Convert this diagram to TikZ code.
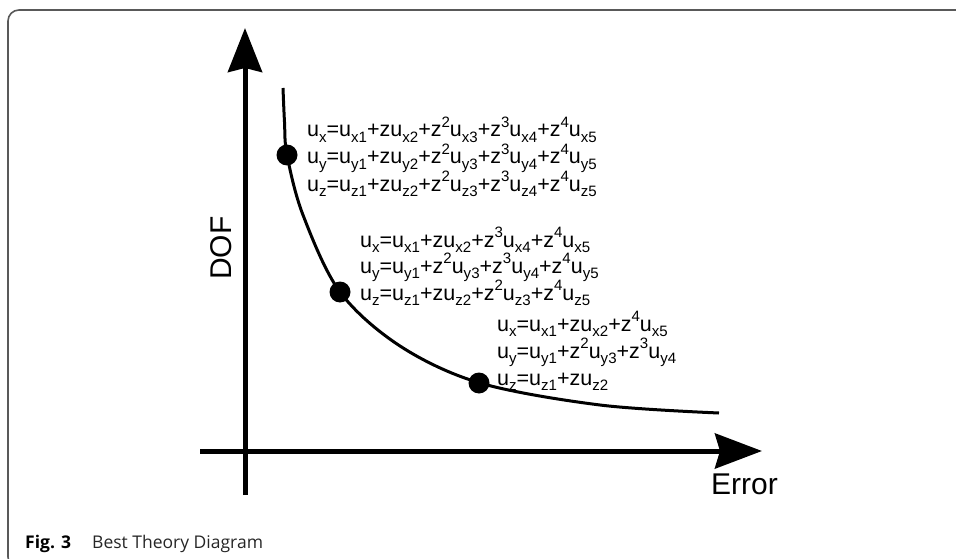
\documentclass[tikz,border=0pt]{standalone}
\usepackage{fontspec}
\usepackage{graphicx}
\setmainfont{Liberation Sans}
\newfontfamily\capfont{Open Sans}
\usetikzlibrary{arrows.meta}
\newcommand\Sb[1]{\raisebox{-0.24em}{\scalebox{0.7}{#1}}}
\newcommand\Sp[1]{\raisebox{0.46em}{\scalebox{0.7}{#1}}}
\tikzset{
  axis/.style={line width=5pt},
  curveline/.style={line width=3pt},
  dot/.style={circle,fill=black,inner sep=0pt,minimum size=21pt},
  eq/.style={anchor=base west,inner sep=0pt,font=\fontsize{21.5}{21}\selectfont},
  lab/.style={inner sep=0pt,font=\fontsize{30}{30}\selectfont},
  frame/.style={line width=1.6pt,draw=black!65},
}
\begin{document}
\begin{tikzpicture}[x=1pt,y=-1pt]
\useasboundingbox (0,0) rectangle (956,559);
\begin{scope}
\clip (0,0) rectangle (956,559);
\draw[frame,rounded corners=11pt] (970,10) -- (8,10) -- (8,568) -- (970,568);
\end{scope}
% axes
\coordinate (yb) at (245,495);
\coordinate (yt) at (245,28);
\coordinate (xl) at (200,451);
\coordinate (xr) at (762,451);
\draw[axis,-{Stealth[length=44pt,width=34pt,inset=4pt]}] (yb) -- (yt);
\draw[axis,-{Stealth[length=47pt,width=35pt,inset=5pt]}] (xl) -- (xr);
% curve
\draw[curveline] plot[smooth,tension=0.55] coordinates {(283,88) (284.5,122) (287,155) (303,215) (340,292) (400,346) (480,383) (600,405) (719,413)};
\node[dot] (d1) at (287,155) {};
\node[dot] (d2) at (340,292) {};
\node[dot] (d3) at (479,383) {};
% labels
\node[lab,rotate=90] (dof) at (221,248) {DOF};
\node[lab,anchor=base west] (err) at (711,494) {Error};
% group 1
\node[eq] (a1) at (307,137) {u\Sb{x}=u\Sb{x1}+zu\Sb{x2}+z\Sp{2}u\Sb{x3}+z\Sp{3}u\Sb{x4}+z\Sp{4}u\Sb{x5}};
\node[eq] (a2) at (307,164) {u\Sb{y}=u\Sb{y1}+zu\Sb{y2}+z\Sp{2}u\Sb{y3}+z\Sp{3}u\Sb{y4}+z\Sp{4}u\Sb{y5}};
\node[eq] (a3) at (307,191) {u\Sb{z}=u\Sb{z1}+zu\Sb{z2}+z\Sp{2}u\Sb{z3}+z\Sp{3}u\Sb{z4}+z\Sp{4}u\Sb{z5}};
% group 2
\node[eq] (b1) at (360,247) {u\Sb{x}=u\Sb{x1}+zu\Sb{x2}+z\Sp{3}u\Sb{x4}+z\Sp{4}u\Sb{x5}};
\node[eq] (b2) at (360,273.5) {u\Sb{y}=u\Sb{y1}+z\Sp{2}u\Sb{y3}+z\Sp{3}u\Sb{y4}+z\Sp{4}u\Sb{y5}};
\node[eq] (b3) at (360,300) {u\Sb{z}=u\Sb{z1}+zu\Sb{z2}+z\Sp{2}u\Sb{z3}+z\Sp{4}u\Sb{z5}};
% group 3
\node[eq] (c1) at (497,331) {u\Sb{x}=u\Sb{x1}+zu\Sb{x2}+z\Sp{4}u\Sb{x5}};
\node[eq] (c2) at (497,358) {u\Sb{y}=u\Sb{y1}+z\Sp{2}u\Sb{y3}+z\Sp{3}u\Sb{y4}};
\node[eq] (c3) at (497,385) {u\Sb{z}=u\Sb{z1}+zu\Sb{z2}};
% caption
\node[anchor=base west,inner sep=0pt,font=\capfont\fontsize{17.5}{18}\selectfont\bfseries] (fig) at (25,548) {Fig. 3};
\node[anchor=base west,inner sep=0pt,font=\capfont\fontsize{17.5}{18}\selectfont,text=black!85] (cap) at (92,548) {Best Theory Diagram};
\end{tikzpicture}
\end{document}
